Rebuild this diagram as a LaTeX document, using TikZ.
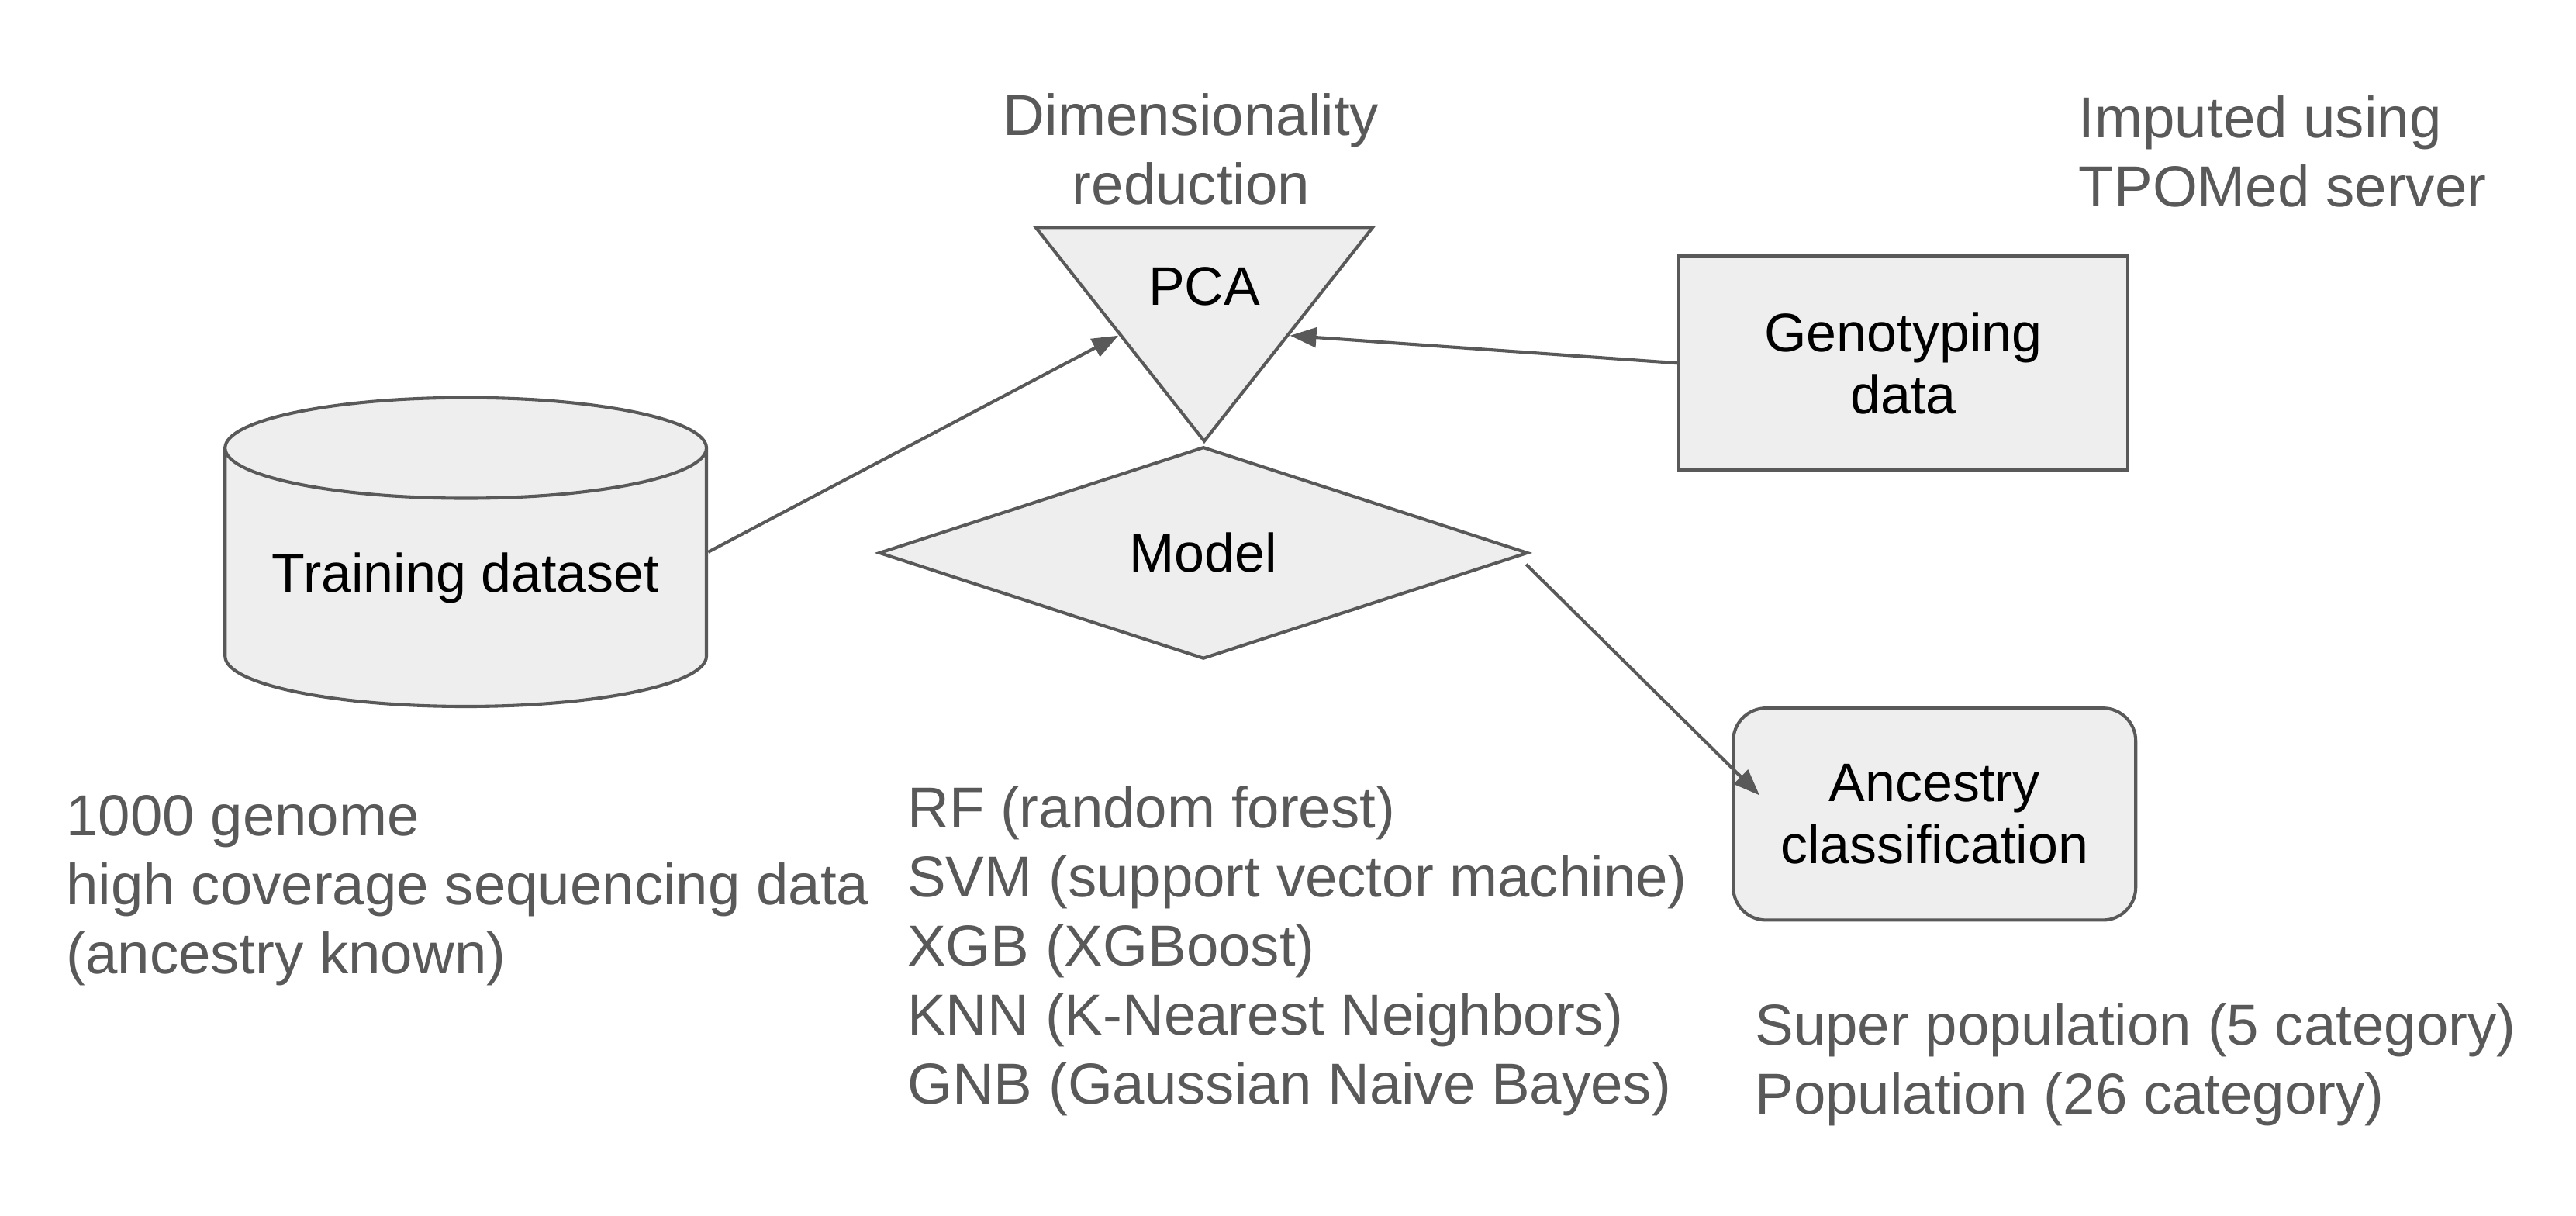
\documentclass[tikz,border=0pt]{standalone}
\usepackage{fontspec}
\setmainfont{Liberation Sans}
\usepackage{tikz}
\usetikzlibrary{calc,shapes.geometric,arrows.meta}
\definecolor{edge}{HTML}{595959}
\definecolor{shade}{HTML}{EEEEEE}
\definecolor{muted}{HTML}{595959}
\tikzset{
  shapebox/.style={draw=edge, fill=shade, line width=1.1pt, text=black, align=center, inner sep=0pt,
    font=\fontsize{18.8}{21.6}\selectfont},
  conn/.style={draw=edge, line width=1.1pt, -{Triangle[length=3.2mm,width=2.4mm]}},
  note/.style={text=muted, inner sep=0pt, font=\fontsize{20}{23.9}\selectfont},
}

\begin{document}
\begin{tikzpicture}[x=0.2mm, y=-0.2mm]
  \useasboundingbox (0,0) rectangle (1568,740);
  \node[shapebox, cylinder, shape border rotate=90, aspect=0.26, minimum width=58.6mm, minimum height=37.6mm, anchor=shape center] (train) at (283.5,336) {Training dataset};
  \node[shapebox, isosceles triangle, isosceles triangle stretches, shape border rotate=270, minimum width=41mm, minimum height=26mm, anchor=apex] (pca) at (733,271) {PCA};
  \node[shapebox, diamond, minimum width=79mm, minimum height=25.8mm] (model) at (732.5,336.5) {Model};
  \node[shapebox, rectangle, minimum width=54.6mm, minimum height=26mm] (geno) at (1158.5,221) {Genotyping\\data};
  \node[shapebox, rectangle, rounded corners=4mm, minimum width=49mm, minimum height=25.8mm] (anc) at (1177.5,495.5) {Ancestry\\classification};
  \node[note, align=center] (dimred) at (725,91) {Dimensionality\\reduction};
  \node[note, align=left, anchor=west] (imput) at (1265,92) {Imputed using\\TPOMed server};
  \node[note, align=left, anchor=west] (kgp) at (40,542) {1000 genome\\high coverage sequencing data\\(ancestry known)};
  \node[note, align=left, anchor=west] (algos) at (552,579) {RF (random forest)\\SVM (support vector machine)\\XGB (XGBoost)\\KNN (K-Nearest Neighbors)\\GNB (Gaussian Naive Bayes)};
  \node[note, align=left, anchor=west] (cats) at (1068,648) {Super population (5 category)\\Population (26 category)};
  \coordinate (trainout) at (train.shape center -| train.east);
  \coordinate (mout) at ($(model.east)+(-2,7)$);
  \coordinate (hit) at (1071,484);
  \draw[conn] (trainout) -- (pca.right side);
  \draw[conn] (geno.west) -- (pca.left side);
  \draw[conn] (mout) -- (hit);
\end{tikzpicture}
\end{document}
